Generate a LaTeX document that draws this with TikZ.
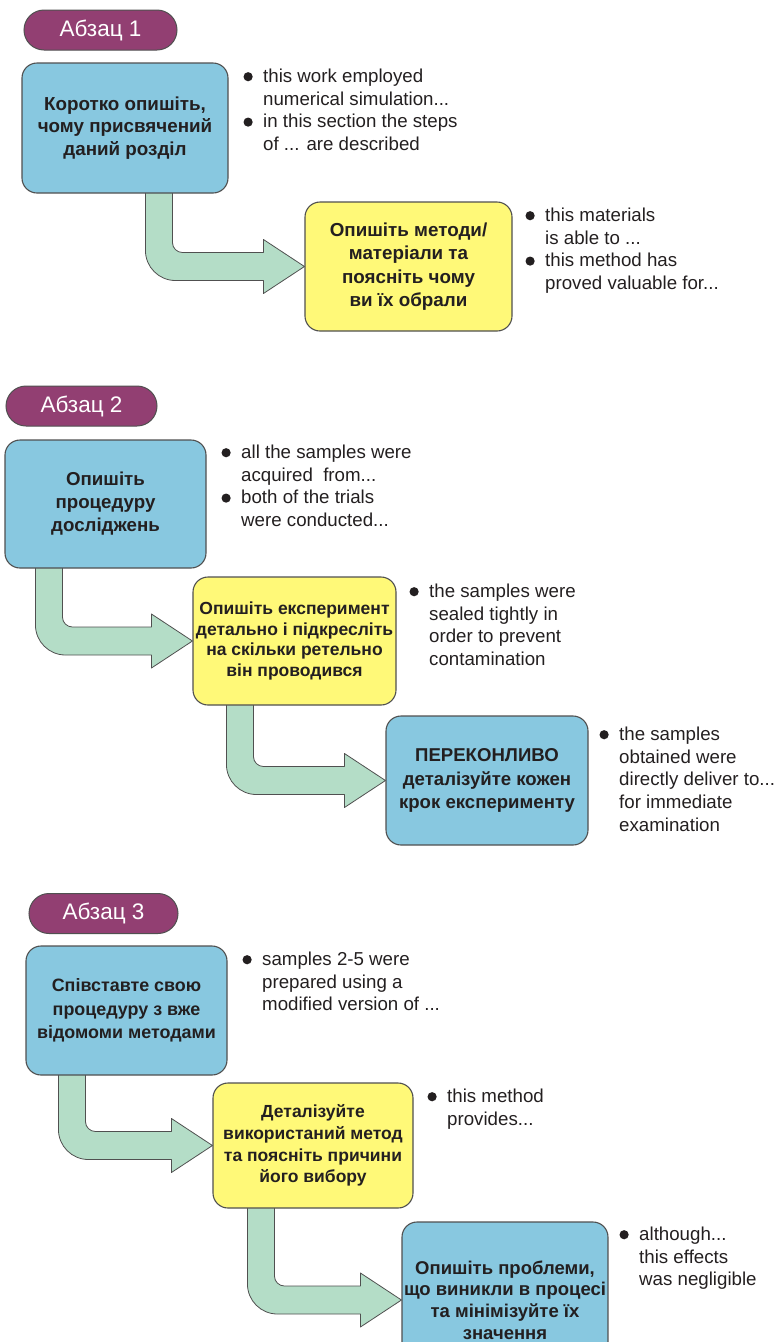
\documentclass[tikz,border=0pt]{standalone}
\usepackage{fontspec}
\setmainfont{Liberation Sans}
\usetikzlibrary{calc,backgrounds}
\definecolor{boxblue}{HTML}{88C8E0}
\definecolor{boxyellow}{HTML}{FFF978}
\definecolor{arrowgreen}{HTML}{B4DDC7}
\definecolor{pillpurple}{HTML}{923F72}
\definecolor{edgegray}{HTML}{505050}
\definecolor{textc}{HTML}{231F20}
\newcommand\bul{\tikz[baseline=0pt]\fill[textc](0pt,5.8pt)circle(4.6pt);}
\newcommand\itm{\leavevmode\llap{\bul\hspace{10.5pt}}}
\newcommand\notelines[1]{\begin{tabular}[t]{@{}l@{}}#1\end{tabular}}
% fat bent arrow: #1 source node, #2 target node, #3 stem offset from source's left side
\newcommand\fatarrow[3]{%
  \draw[fatstyle] let \p1=(#1.south west), \p2=(#2.west) in
    (\x1+#3,\y1+2pt) -- (\x1+#3,\y2+16pt)
    arc[start angle=180,end angle=270,radius=30pt]
    -- (\x2-41pt,\y2-14pt) -- (\x2-41pt,\y2-27pt) -- (\x2,\y2)
    -- (\x2-41pt,\y2+27pt) -- (\x2-41pt,\y2+14pt)
    -- (\x1+#3+37pt,\y2+14pt)
    arc[start angle=270,end angle=180,radius=10pt]
    -- (\x1+#3+27pt,\y1+2pt) -- cycle;}
\tikzset{
  basebox/.style={rounded corners=15pt, draw=edgegray, line width=1.1pt, align=center,
    inner sep=2pt, text=textc, font=\bfseries\fontsize{18.7}{23}\selectfont},
  bluebox/.style={basebox, fill=boxblue},
  yellowbox/.style={basebox, fill=boxyellow},
  pill/.style={rounded corners=20pt, fill=pillpurple, draw=edgegray, line width=1pt,
    text=white, font=\fontsize{22.5}{22.5}\selectfont, minimum height=40pt},
  notes/.style={anchor=base west, inner sep=0pt, text=textc,
    font=\fontsize{18.7}{22.7}\selectfont},
  fatstyle/.style={fill=arrowgreen, draw=edgegray, line width=0.8pt, line join=round},
}
\begin{document}
\begin{tikzpicture}[x=1pt,y=-1pt]
\useasboundingbox (0,0) rectangle (777,1342);

% ---------- Абзац 1 ----------
\node[pill, minimum width=153pt] (p1) at (100.5,30) {Абзац 1};
\node[bluebox, minimum width=206pt, minimum height=130pt,
  font=\bfseries\fontsize{18.8}{22.5}\selectfont] (b1) at (125,128)
  {Коротко опишіть,\\чому присвячений\\даний розділ};
\node[notes] (n1) at (263,82.5)
  {\notelines{\itm this work employed\\numerical simulation...\\\itm in this section the steps\\of ... are described}};
\node[yellowbox, minimum width=207pt, minimum height=129pt,
  font=\bfseries\fontsize{18.8}{23.3}\selectfont] (b2) at (408.5,266.5)
  {Опишіть методи/\\матеріали та\\поясніть чому\\ви їх обрали};
\node[notes] (n2) at (545,221.5)
  {\notelines{\itm this materials\\is able to ...\\\itm this method has\\proved valuable for...}};

% ---------- Абзац 2 ----------
\node[pill, minimum width=151pt] (p2) at (81.5,406) {Абзац 2};
\node[bluebox, minimum width=201pt, minimum height=128pt] (b3) at (105.5,504)
  {Опишіть\\процедуру\\досліджень};
\node[notes] (n3) at (241,458.5)
  {\notelines{\itm all the samples were\\acquired\ \ from...\\\itm both of the trials\\were conducted...}};
\node[yellowbox, minimum width=203pt, minimum height=128pt,
  font=\bfseries\fontsize{17.5}{20.5}\selectfont] (b4) at (294.5,641)
  {Опишіть експеримент\\детально і підкресліть\\на скільки ретельно\\він проводився};
\node[notes] (n4) at (429,597.5)
  {\notelines{\itm the samples were\\sealed tightly in\\order to prevent\\contamination}};
\node[bluebox, minimum width=202pt, minimum height=129pt,
  font=\bfseries\fontsize{18.6}{23.5}\selectfont] (b5) at (487,780.5)
  {ПЕРЕКОНЛИВО\\деталізуйте кожен\\крок експерименту};
\node[notes] (n5) at (619,740.5)
  {\notelines{\itm the samples\\obtained were\\directly deliver to...\\for immediate\\examination}};

% ---------- Абзац 3 ----------
\node[pill, minimum width=149pt] (p3) at (103.5,913.5) {Абзац 3};
\node[bluebox, minimum width=201pt, minimum height=129pt,
  font=\bfseries\fontsize{17.9}{23.5}\selectfont] (b6) at (126.5,1010.5)
  {Співставте свою\\процедуру з вже\\відомоми методами};
\node[notes] (n6) at (262,965.5)
  {\notelines{\itm samples 2-5 were\\prepared using a\\modified version of ...}};
\node[yellowbox, minimum width=200pt, minimum height=125pt,
  font=\bfseries\fontsize{17.5}{21.7}\selectfont] (b7) at (313,1145.5)
  {Деталізуйте\\використаний метод\\та поясніть причини\\його вибору};
\node[notes] (n7) at (447,1102.5)
  {\notelines{\itm this method\\provides...}};
\begin{scope}
  \clip (0,0) rectangle (777,1342);
  \node[bluebox, minimum width=200pt, minimum height=156pt,
    font=\bfseries\fontsize{18.5}{21.7}\selectfont] (b8) at (505,1300)
    {Опишіть проблеми,\\що виникли в процесі\\та мінімізуйте їх\\значення};
\end{scope}
\node[notes] (n8) at (639,1240.5)
  {\notelines{\itm although...\\this effects\\was negligible}};

% ---------- connectors ----------
\begin{scope}[on background layer]
  \fatarrow{b1}{b2}{124pt}
  \fatarrow{b3}{b4}{31pt}
  \fatarrow{b4}{b5}{34pt}
  \fatarrow{b6}{b7}{33pt}
  \fatarrow{b7}{b8}{35pt}
\end{scope}
\end{tikzpicture}
\end{document}
